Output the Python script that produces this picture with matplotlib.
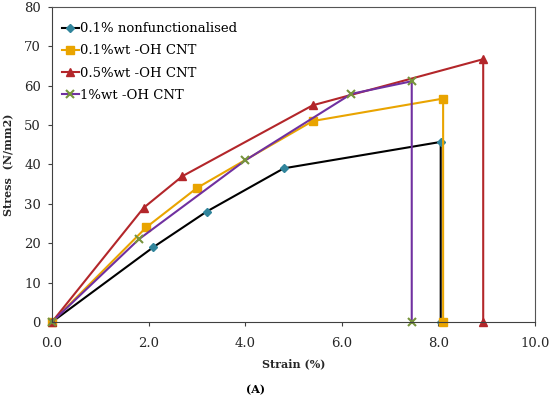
import matplotlib.pyplot as plt

# strain (%) and stress (N/mm2)
strain_nf = [0, 2.1, 3.2, 4.8, 8.05, 8.05]
stress_nf = [0, 19, 28, 39, 45.7, 0]

strain_01 = [0, 1.95, 3.0, 5.4, 8.1, 8.1]
stress_01 = [0, 24, 34, 51, 56.7, 0]

strain_05 = [0, 1.9, 2.7, 5.4, 8.93, 8.93]
stress_05 = [0, 29, 37, 55, 66.7, 0]

strain_1 = [0, 1.8, 4.0, 6.2, 7.45, 7.45]
stress_1 = [0, 21, 41, 57.9, 61.1, 0]

labels = ['0.1% nonfunctionalised', '0.1%wt -OH CNT', '0.5%wt -OH CNT', '1%wt -OH CNT']

plt.rcParams['font.family'] = ['DejaVu Serif']
plt.rcParams['font.size'] = 9.5

fig = plt.figure(figsize=(5.5, 3.99), dpi=100)
ax = fig.add_axes([0.0945, 0.193, 0.878, 0.79])

ax.plot(strain_nf, stress_nf, color='black', lw=1.5, marker='D', ms=4.5,
        mfc='#31859C', mec='#31859C', label=labels[0], clip_on=False)
ax.plot(strain_01, stress_01, color='#E9A400', lw=1.5, marker='s', ms=6,
        mfc='#E9A400', mec='#E9A400', label=labels[1], clip_on=False)
ax.plot(strain_05, stress_05, color='#B3262A', lw=1.5, marker='^', ms=6,
        mfc='#B3262A', mec='#B3262A', label=labels[2], clip_on=False)
ax.plot(strain_1, stress_1, color='#7030A0', lw=1.5, marker='x', ms=6, mew=1.5,
        mec='#77933C', label=labels[3], clip_on=False)

ax.set_xlim(0, 10)
ax.set_ylim(0, 80)
ax.set_xticks([0, 2, 4, 6, 8, 10])
ax.set_xticklabels(['0.0', '2.0', '4.0', '6.0', '8.0', '10.0'])
ax.set_yticks(range(0, 81, 10))
ax.tick_params(direction='out', length=3, width=0.8, colors='#404040',
               labelcolor='#262626', labelsize=9.5, pad=5)
ax.tick_params(axis='x', pad=8)
for side in ['top', 'right']:
    ax.spines[side].set_color('#555555')
for side in ['left', 'bottom']:
    ax.spines[side].set_color('#404040')

ax.set_xlabel('Strain (%)', fontsize=8, fontweight='bold', color='#262626', labelpad=6)
ax.set_ylabel('Stress  (N/mm2)', fontsize=8, fontweight='bold', color='#262626', labelpad=7)

ax.legend(loc='upper left', bbox_to_anchor=(0.01, 0.968), borderaxespad=0,
          frameon=False, handlelength=1.25, handletextpad=0.1,
          labelspacing=0.7, fontsize=9.5)

fig.text(0.464, 0.024, '(A)', fontweight='bold', fontsize=8, ha='center', va='center')

fig.savefig('out.png', dpi=100)
